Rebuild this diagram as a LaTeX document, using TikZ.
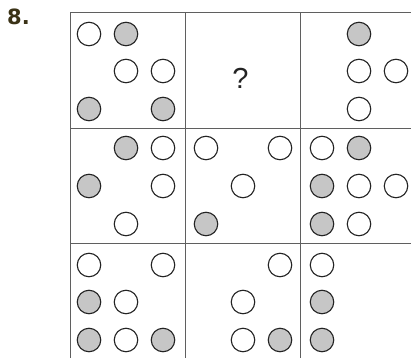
\documentclass[tikz,border=0pt]{standalone}
\usepackage{fontspec}
\setmainfont{Liberation Sans}
\newfontfamily\labelfont{DejaVu Sans}
\definecolor{gridcol}{RGB}{95,95,95}
\definecolor{ringcol}{RGB}{35,35,35}
\definecolor{fillgray}{RGB}{198,198,198}
\definecolor{labcol}{RGB}{58,50,22}
\begin{document}
\begin{tikzpicture}[x=1pt,y=-1pt,
  gridline/.style={draw=gridcol,line width=1pt},
  ring/.style={circle,draw=ringcol,line width=1.1pt,minimum size=23.5pt,inner sep=0pt},
  wc/.style={ring,fill=white},
  gc/.style={ring,fill=fillgray}]
\useasboundingbox (0,0) rectangle (411,358);
\fill[white] (0,0) rectangle (411,358);
% grid
\draw[gridline] (70,13) -- (411,13);
\draw[gridline] (70,128) -- (411,128);
\draw[gridline] (70,243) -- (411,243);
\draw[gridline] (70,13) -- (70,358);
\draw[gridline] (185,13) -- (185,358);
\draw[gridline] (300,13) -- (300,358);
% labels
\node[text=labcol,font=\labelfont\bfseries\fontsize{21}{21}\selectfont,anchor=west,inner sep=0pt] (num) at (7,17) {8.};
\node[text=ringcol,font=\fontsize{29}{29}\selectfont,inner sep=0pt] (q) at (240.5,78) {?};
% circle positions
\def\xs{{89,126,163,206,243,280,322,359,396}}
\def\ys{{34,71,109,148,186,224,265,302,340}}
% white circles: global col/row index
\foreach \i/\j in {0/0,1/1,2/1,
                   7/1,8/1,7/2,
                   2/3,2/4,1/5,
                   3/3,5/3,4/4,
                   6/3,7/4,8/4,7/5,
                   0/6,2/6,1/7,1/8,
                   5/6,4/7,4/8,
                   6/6}{
  \pgfmathsetmacro\cx{\xs[\i]}\pgfmathsetmacro\cy{\ys[\j]}
  \node[wc] (w-\i-\j) at (\cx,\cy) {};
}
\foreach \i/\j in {1/0,0/2,2/2,
                   7/0,
                   1/3,0/4,
                   3/5,
                   7/3,6/4,6/5,
                   0/7,0/8,2/8,
                   5/8,
                   6/7,6/8}{
  \pgfmathsetmacro\cx{\xs[\i]}\pgfmathsetmacro\cy{\ys[\j]}
  \node[gc] (g-\i-\j) at (\cx,\cy) {};
}
\end{tikzpicture}
\end{document}
